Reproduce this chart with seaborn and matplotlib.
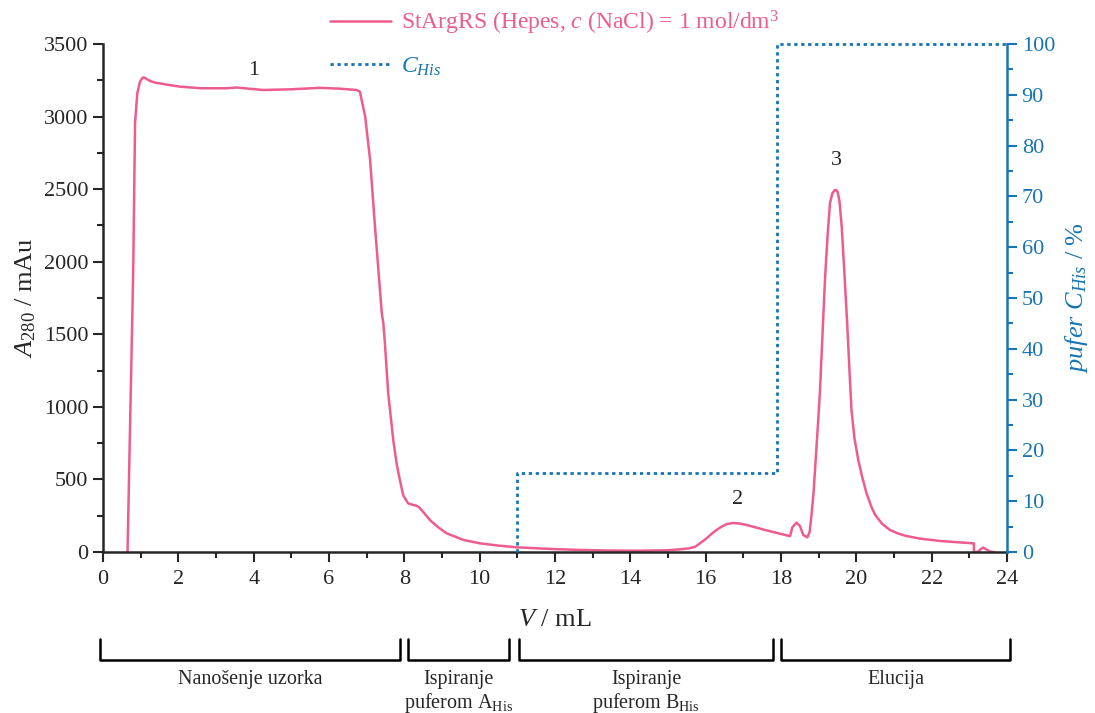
import matplotlib
matplotlib.use("Agg")
from matplotlib import pyplot as plt
import numpy as np
import pandas as pd
import seaborn as sb

# chromatogram, A280 (mAu) vs V (mL)
v_ml = [0.65, 0.72, 0.80, 0.85, 0.91, 0.98, 1.05, 1.10, 1.25, 1.38, 1.7, 2.04, 2.6, 3.28,
        3.55, 4.25, 5.0, 5.76, 6.3, 6.73, 6.82, 6.96, 7.09, 7.22, 7.40, 7.44, 7.48, 7.57,
        7.71, 7.80, 7.88, 7.97, 8.10, 8.24, 8.33, 8.40, 8.55, 8.68, 8.9, 9.12, 9.57, 10.0,
        10.5, 11.0, 11.8, 12.66, 13.5, 14.25, 15.0, 15.3, 15.55, 15.72, 15.9, 16.02, 16.2,
        16.38, 16.55, 16.73, 16.9, 17.09, 17.6, 18.19, 18.24, 18.3, 18.41, 18.5, 18.59,
        18.70, 18.76, 18.81, 18.86, 18.90, 18.96, 19.03, 19.10, 19.17, 19.24, 19.30, 19.36,
        19.42, 19.46, 19.50, 19.55, 19.61, 19.68, 19.76, 19.82, 19.87, 19.95, 20.05, 20.15,
        20.27, 20.4, 20.5, 20.68, 20.89, 21.1, 21.33, 21.7, 22.22, 22.7, 23.1, 23.12, 23.12,
        23.22, 23.3, 23.37, 23.47, 23.55, 23.65]
a280 = [0, 900, 1922, 2956, 3162, 3240, 3268, 3268, 3245, 3234, 3220, 3206, 3195, 3195,
        3200, 3183, 3188, 3198, 3192, 3183, 3171, 2999, 2701, 2241, 1645, 1578, 1450, 1093,
        760, 600, 496, 390, 335, 324, 318, 306, 260, 220, 170, 129, 83, 60,
        44, 32, 22, 14, 10, 9, 12, 18, 25, 36, 70, 94, 135,
        168, 192, 200, 196, 186, 150, 112, 110, 170, 202, 180, 117,
        101, 140, 260, 400, 560, 800, 1095, 1500, 1897, 2200, 2405, 2470,
        2492, 2494, 2482, 2420, 2241, 1930, 1552, 1230, 978, 780, 634, 520,
        404, 310, 255, 195, 152, 128, 110, 92, 76, 67, 60, 60, 0,
        0, 20, 30, 15, 2, 0]

# buffer C_His gradient (%)
v_his = [11, 11, 17.9, 17.9, 24]
c_his = [0, 15.5, 15.5, 100, 100]

peak_names = ["1", "2", "3"]
peak_v = [4.0, 16.85, 19.46]
peak_a = [3320, 360, 2700]

# phases under the x axis
phase_start = [-0.08, 8.1, 11.04, 18.0]
phase_end = [7.88, 10.78, 17.79, 24.08]
phase_text = ["Nanošenje uzorka", "Ispiranje\npuferom A$_{\\mathrm{His}}$",
              "Ispiranje\npuferom B$_{\\mathrm{His}}$", "Elucija"]

pink = "#EE5C8E"
blue = "#1874B4"

sb.set_style("ticks")
plt.rcParams["font.family"] = ["Liberation Serif", "DejaVu Serif"]
plt.rcParams["mathtext.fontset"] = "custom"
plt.rcParams["mathtext.rm"] = "Liberation Serif"
plt.rcParams["mathtext.it"] = "Liberation Serif:italic"

fig = plt.figure(figsize=(10.95, 7.13), dpi=100)
ax = fig.add_axes([0.0941, 0.2258, 0.8256, 0.7125])
ax2 = ax.twinx()

df = pd.DataFrame({"V": v_ml, "A": a280})
sb.lineplot(data=df, x="V", y="A", ax=ax, color=pink, lw=1.8, sort=False,
            estimator=None, label="StArgRS (Hepes, $c$ (NaCl) = 1 mol/dm$^3$")
dfh = pd.DataFrame({"V": v_his, "C": c_his})
sb.lineplot(data=dfh, x="V", y="C", ax=ax2, color=blue, lw=2, sort=False,
            estimator=None, label="$C_{His}$")
ax2.lines[0].set_dashes((1.2, 1.3))
ax2.lines[0].set_clip_on(False)

ax.set_xlim(0, 24)
ax.set_ylim(0, 3500)
ax2.set_ylim(0, 100)
ax.set_xticks(np.arange(0, 25, 2))
ax.set_xticks(np.arange(0, 25, 1), minor=True)
ax.set_yticks(np.arange(0, 3501, 500))
ax.set_yticks(np.arange(0, 3501, 250), minor=True)
ax2.set_yticks(np.arange(0, 101, 10))
ax2.set_yticks(np.arange(0, 101, 5), minor=True)

for a in (ax, ax2):
    a.spines["top"].set_visible(False)
ax.spines["right"].set_visible(False)
ax2.spines["left"].set_visible(False)
ax2.spines["bottom"].set_visible(False)
ax.spines["left"].set_linewidth(1.8)
ax.spines["bottom"].set_linewidth(1.8)
ax2.spines["right"].set_linewidth(1.8)
ax2.spines["right"].set_color(blue)

ax.tick_params(axis="both", which="major", length=7, width=1.5, labelsize=16, direction="out")
ax.tick_params(axis="x", which="major", pad=6)
ax.tick_params(axis="both", which="minor", length=4, width=1.5, direction="out")
ax2.tick_params(axis="y", which="major", length=7, width=1.5, labelsize=16, colors=blue)
ax2.tick_params(axis="y", which="minor", length=4, width=1.5, colors=blue)

ax.set_xlabel("$V$ / mL", fontsize=19, labelpad=14)
ax.set_ylabel("$A_{\\mathit{280}}$ / mAu", fontsize=19, labelpad=4)
ax2.set_ylabel("$pufer\\ C_{His}$ / %", fontsize=19, color=blue, labelpad=6)

for name, x, y in zip(peak_names, peak_v, peak_a):
    ax.text(x, y, name, fontsize=16, ha="center", va="center")

# legend on top
h1, l1 = ax.get_legend_handles_labels()
h2, l2 = ax2.get_legend_handles_labels()
if ax.get_legend():
    ax.get_legend().remove()
if ax2.get_legend():
    ax2.get_legend().remove()
fig.legend(h1 + h2, l1 + l2, loc="upper left", bbox_to_anchor=(0.282, 1.018),
           frameon=False, fontsize=17, handlelength=2.6, labelspacing=0.8,
           labelcolor="linecolor", handletextpad=0.4)

# brackets for the chromatography phases
trans = ax.get_xaxis_transform()
for s, e, t in zip(phase_start, phase_end, phase_text):
    ax.plot([s, s, e, e], [-0.172, -0.212, -0.212, -0.172], color="black", lw=1.8,
            transform=trans, clip_on=False)
    ax.text((s + e) / 2, -0.232, t, transform=trans, ha="center", va="top",
            fontsize=14.5, linespacing=1.1)

fig.savefig("out.png", dpi=100)
